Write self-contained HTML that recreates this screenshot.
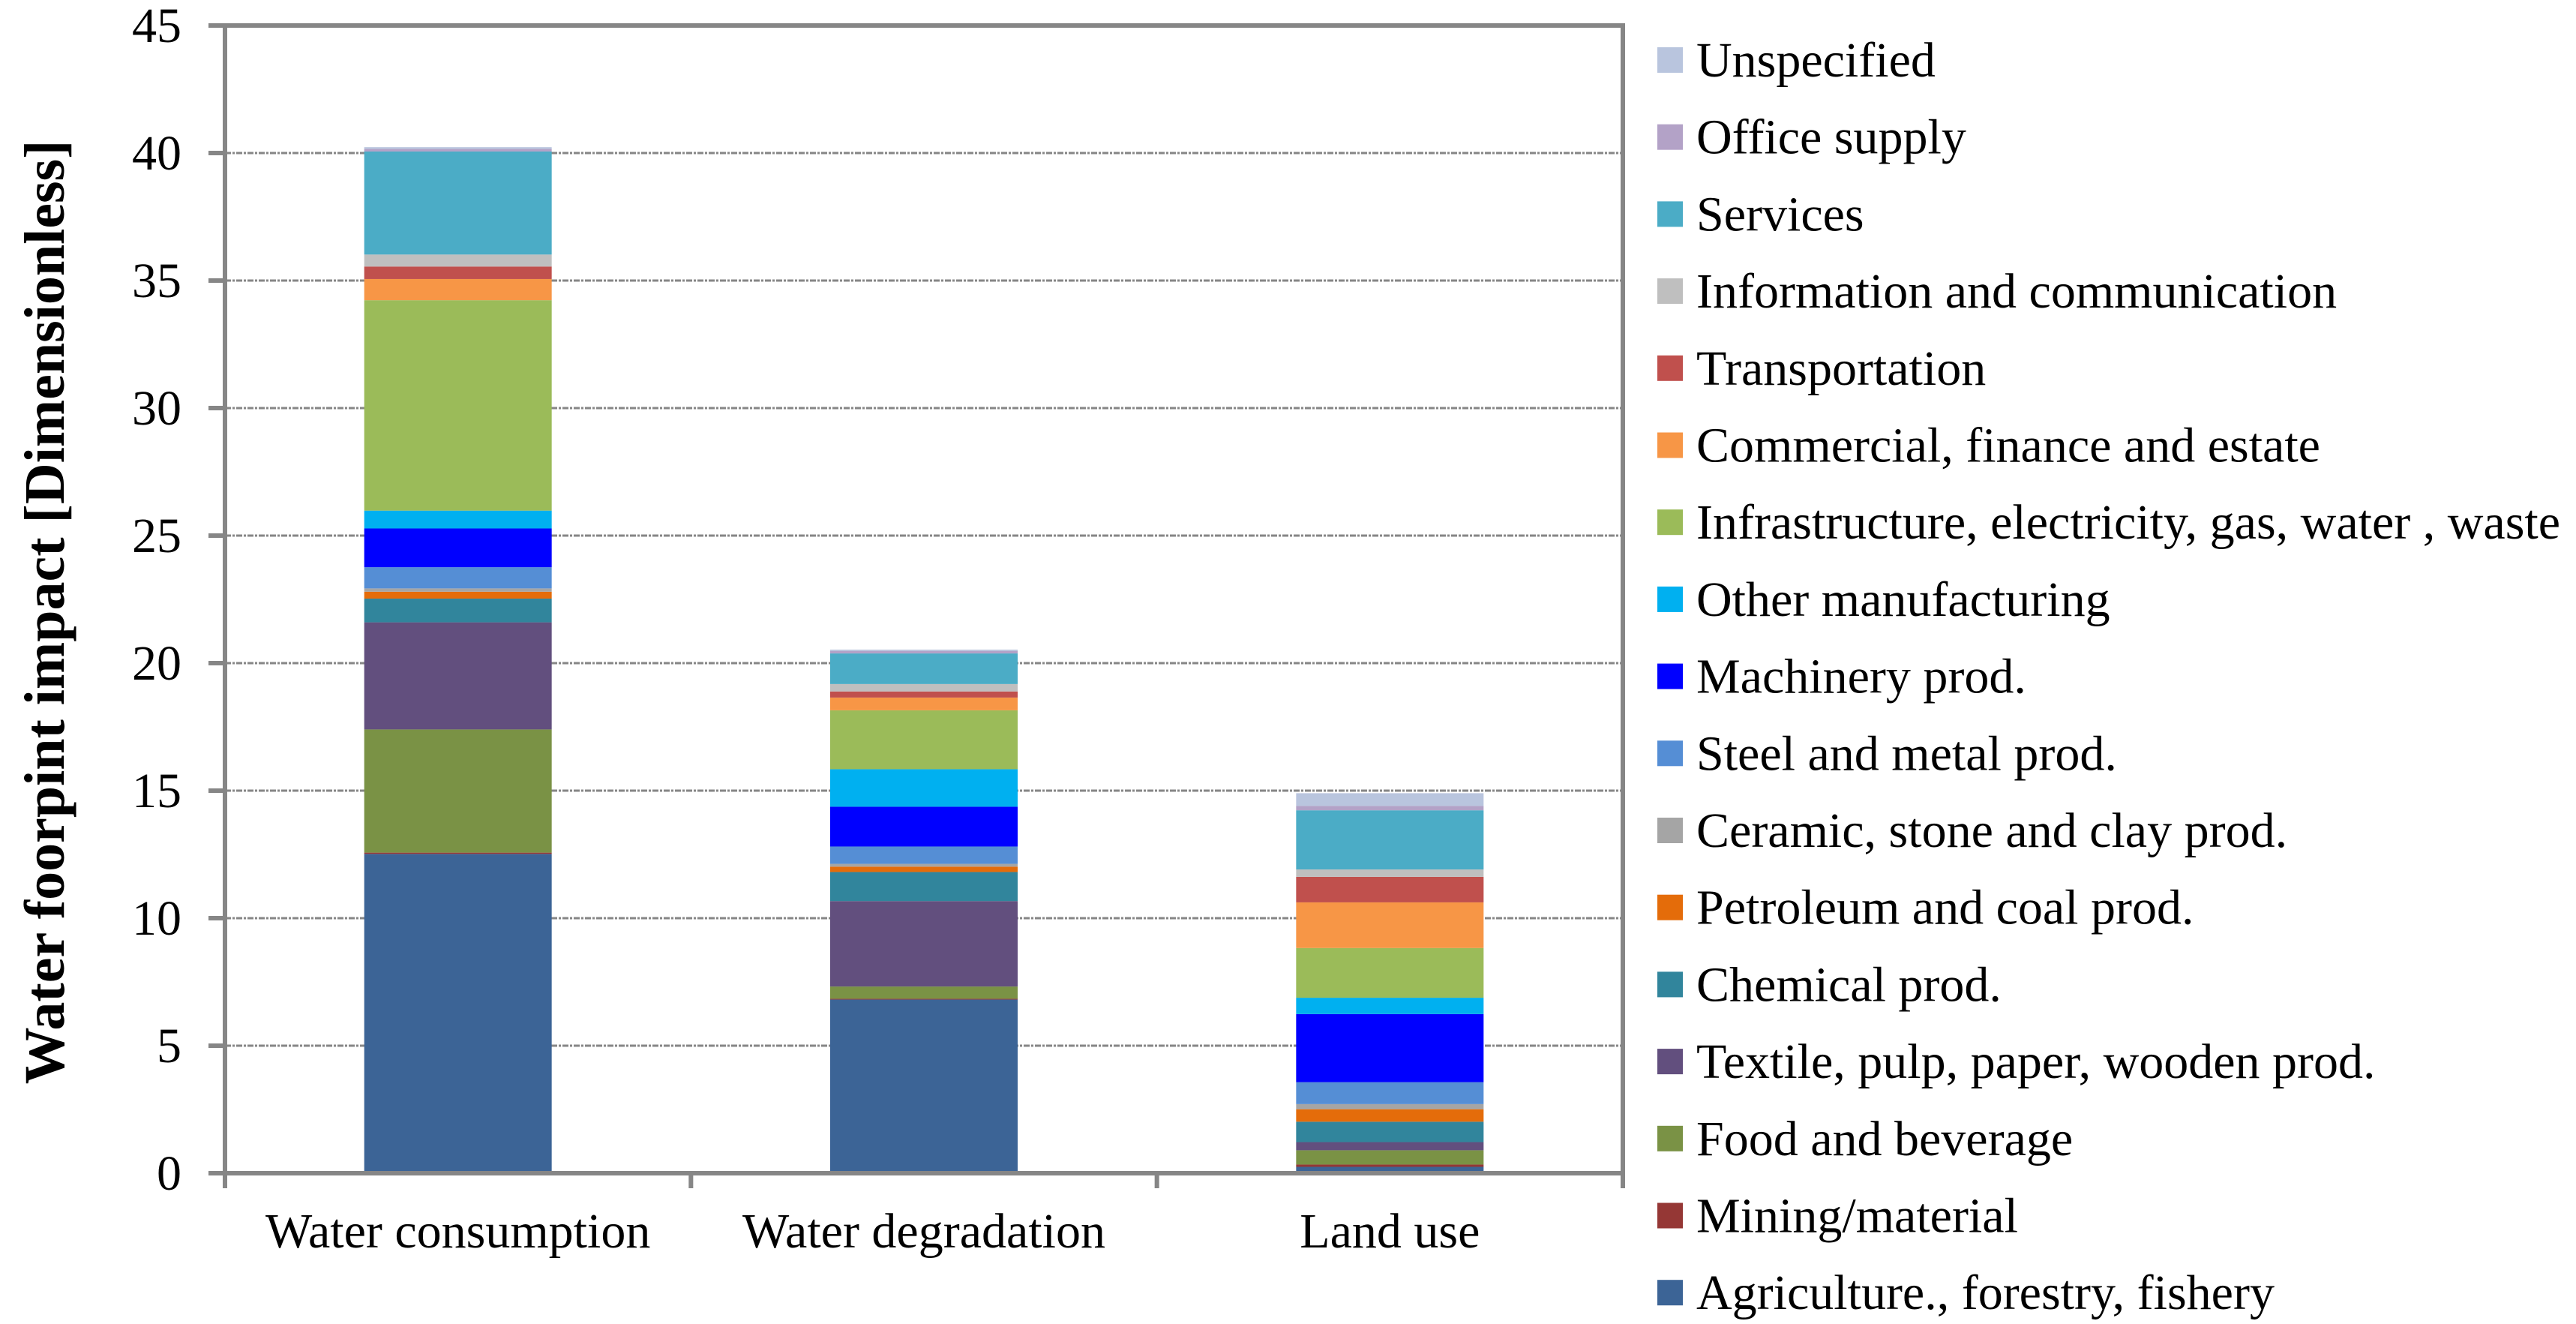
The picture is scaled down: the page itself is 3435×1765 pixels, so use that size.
<!DOCTYPE html>
<html><head><meta charset="utf-8"><style>
html,body{margin:0;padding:0;background:#fff;}
svg{display:block;font-family:"Liberation Serif",serif;}
text{font-family:"Liberation Serif",serif;}
</style></head><body>
<svg id="chart" width="3435" height="1765" viewBox="0 0 3435 1765" xmlns="http://www.w3.org/2000/svg" font-family="Liberation Serif, serif">
<g id="grid"></g>
<g id="bars"></g>
<g id="axes"></g>
<g id="legend"></g>
<text transform="translate(85,816) rotate(-90)" text-anchor="middle" font-size="76" font-weight="bold">Water foorpint impact [Dimensionless]</text>
</svg>
<script>
const categories = ["Water consumption","Water degradation","Land use"];
const seriesNames = ["Agriculture., forestry, fishery","Mining/material","Food and beverage","Textile, pulp, paper, wooden prod.","Chemical prod.","Petroleum and coal prod.","Ceramic, stone and clay prod.","Steel and metal prod.","Machinery prod.","Other manufacturing","Infrastructure, electricity, gas, water , waste","Commercial, finance and estate","Transportation","Information and communication","Services","Office supply","Unspecified"];
const seriesColors = ["#3C6496","#953735","#7A9245","#624F7E","#31859C","#E46C0A","#A5A5A5","#558ED5","#0000FF","#00B0F0","#9BBB59","#F79646","#C0504D","#BFBFBF","#4BACC6","#B3A2C7","#B9C5DE"];
const waterConsumption = [12.52,0.05,4.83,4.2,0.93,0.27,0.13,0.83,1.52,0.7,8.25,0.83,0.49,0.47,4.04,0.1,0.07];
const waterDegradation = [6.81,0.03,0.48,3.35,1.14,0.21,0.11,0.68,1.56,1.47,2.31,0.5,0.24,0.29,1.2,0.1,0.05];
const landUse = [0.25,0.09,0.56,0.32,0.8,0.49,0.2,0.86,2.67,0.64,1.95,1.79,1.0,0.29,2.32,0.17,0.5];
const seriesValues = [waterConsumption, waterDegradation, landUse];
const yTicks = [0,5,10,15,20,25,30,35,40,45];

const NS="http://www.w3.org/2000/svg";
const L=300,R=2164,T=34,B=1564,yMax=45;
const y=v=>B-(v/yMax)*(B-T);
const band=(R-L)/categories.length, barW=250;
const xC=i=>L+band*(i+0.5);
function mk(tag,attrs,parent){const e=document.createElementNS(NS,tag);for(const k in attrs)e.setAttribute(k,attrs[k]);parent.appendChild(e);return e;}
const grid=document.getElementById('grid'),bars=document.getElementById('bars'),axes=document.getElementById('axes'),legend=document.getElementById('legend');

yTicks.forEach(t=>{
  if(t>0&&t<yMax){const g=mk('line',{x1:L,x2:R,y1:y(t),y2:y(t),stroke:'#868686','stroke-width':3,'stroke-dasharray':'8 2 3 2'},grid);
  
  }
  const tk=mk('line',{x1:L-22,x2:L,y1:y(t),y2:y(t),stroke:'#868686','stroke-width':6},axes);
  
  
  const lb=mk('text',{x:242,y:y(t)+22,'text-anchor':'end','font-size':66},axes);
  lb.textContent=t;
  
  
});

categories.forEach((c,i)=>{
  let acc=0;
  seriesValues[i].forEach((v,s)=>{
    const r=mk('rect',{x:xC(i)-barW/2,y:y(acc+v),width:barW,height:y(acc)-y(acc+v),fill:seriesColors[s]},bars);
    
    
    acc+=v;
  });
  const lb=mk('text',{x:xC(i),y:1663,'text-anchor':'middle','font-size':66},axes);
  lb.textContent=c;
  
  
});
for(let i=0;i<=categories.length;i++){
  const tk=mk('line',{x1:L+band*i,x2:L+band*i,y1:B,y2:B+20,stroke:'#868686','stroke-width':6},axes);
  
  
}
const frame=mk('rect',{x:L,y:T,width:R-L,height:B-T,fill:'none',stroke:'#868686','stroke-width':6},axes);



for(let k=0;k<seriesNames.length;k++){
  const s=seriesNames.length-1-k;
  const cy=80+k*102.7;
  const g=mk('g',{},legend);
  
  
  mk('rect',{x:2210,y:cy-17,width:34,height:34,fill:seriesColors[s]},g);
  const t=mk('text',{x:2262,y:cy+22,'font-size':66},g);
  t.textContent=seriesNames[s];
}
</script>
</body></html>
